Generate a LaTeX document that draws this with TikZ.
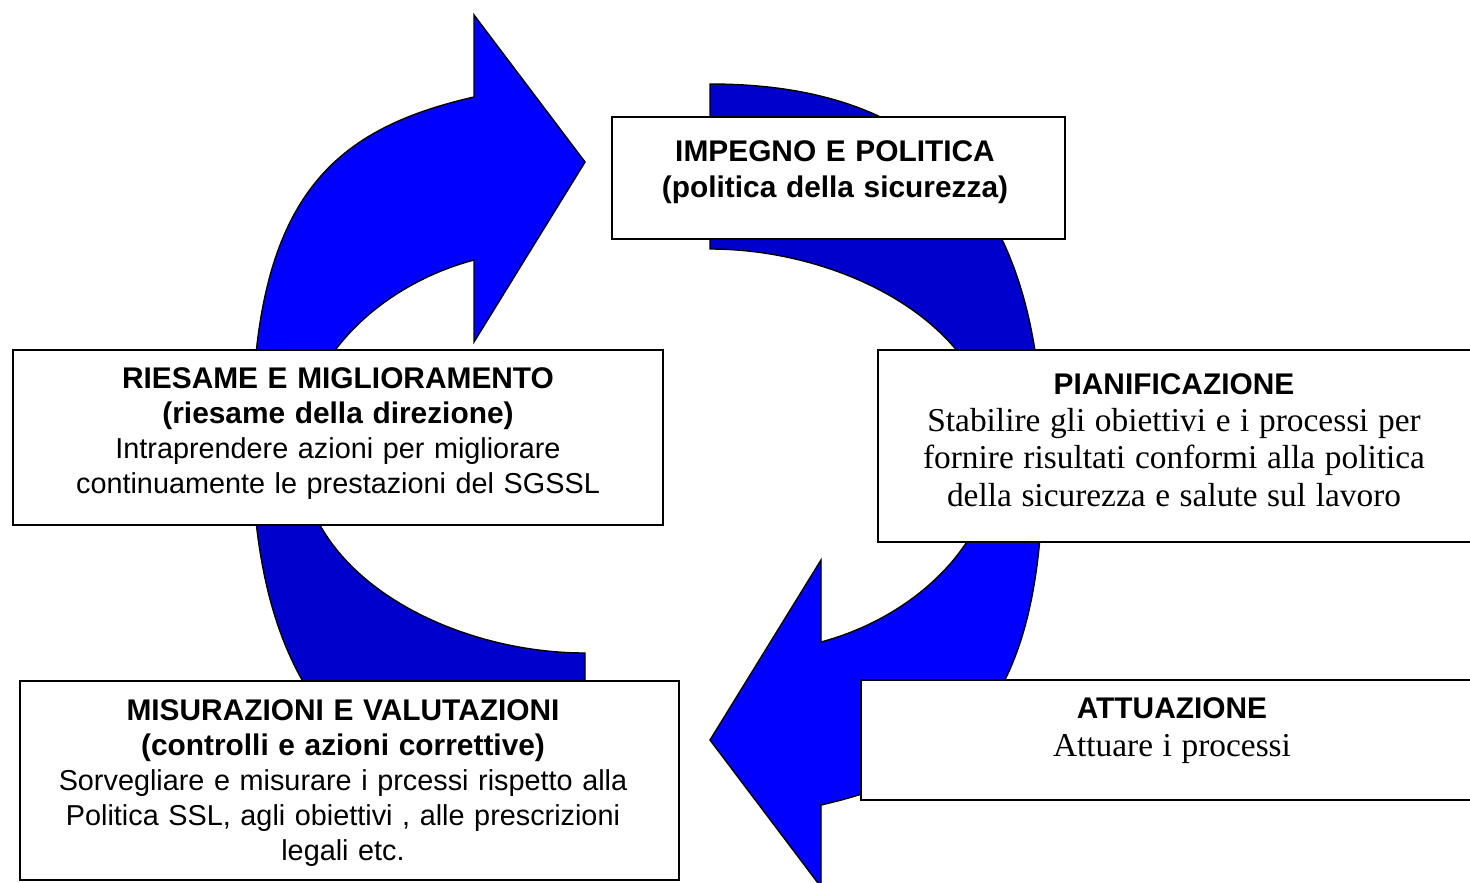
\documentclass[tikz,border=0pt]{standalone}
\usepackage{fontspec}
\setmainfont{Liberation Serif}
\setsansfont{Liberation Sans}
\usepackage{tikz}
\usetikzlibrary{calc}

\definecolor{frontblue}{RGB}{0,0,255}
\definecolor{backblue}{RGB}{0,0,204}

\tikzset{
  box/.style={draw, fill=white, line width=0.9pt, inner sep=0pt, outer sep=0pt},
  boxtext/.style={align=center, inner sep=0pt, font=\sffamily\fontsize{16.4}{19.85}\selectfont},
  serifbox/.style={align=center, inner sep=0pt, font=\sffamily\fontsize{16.4}{21.3}\selectfont},
  outline/.style={draw=black, line width=0.8pt, line join=miter}
}
\newcommand{\hd}[1]{{\bfseries\fontsize{17}{19.85}\selectfont #1}}
\newcommand{\sr}{\rmfamily\fontsize{19}{21.3}\selectfont}

\newcommand{\bandpath}{
  (585,818) .. controls (330,818) and (252,660) .. (252,440)
  .. controls (252,200) and (330,130) .. (474,97)
  -- (474,15) -- (585,162) -- (474,342) -- (474,260)
  .. controls (380,285) and (300,360) .. (300,450)
  .. controls (300,575) and (450,653) .. (585,653)
  -- cycle}

\begin{document}
\begin{tikzpicture}[x={(0.02cm,0)}, y={(0,-0.02cm)}]

	\useasboundingbox (0,0) rectangle (1470,882);

	\coordinate (pivot) at (647.5,451);

	\foreach \ang in {0,180}{
		\begin{scope}[rotate around={\ang:(pivot)}]
			\fill[backblue] \bandpath;
			\begin{scope}
				\clip (0,0) rectangle (1470,440);
				\fill[frontblue] \bandpath;
			\end{scope}
			\draw[outline] \bandpath;
		\end{scope}
	}

	\node[box, minimum width=9.06cm, minimum height=2.44cm] (impegno) at (838.5,178) {};
	\node[box, minimum width=13cm, minimum height=3.5cm] (riesame) at (338,437.5) {};
	\node[box, minimum width=12.04cm, minimum height=3.84cm] (pianif) at (1179,446) {};
	\node[box, minimum width=12.38cm, minimum height=2.4cm] (attuaz) at (1170.5,740) {};
	\node[box, minimum width=13.18cm, minimum height=3.98cm] (misuraz) at (349.5,780.5) {};

	\node[boxtext, text width=9cm] (impegno-t) at (835,172)
		{\hd{IMPEGNO E POLITICA}\\[1pt]\hd{(politica della sicurezza)}};
	\node[boxtext, text width=12.8cm] (riesame-t) at (338,433.5)
		{\hd{RIESAME E MIGLIORAMENTO}\\\hd{(riesame della direzione)}\\
		 Intraprendere azioni per migliorare\\continuamente le prestazioni del SGSSL};
	\node[serifbox, text width=11.8cm] (pianif-t) at (1174,440)
		{\hd{PIANIFICAZIONE}\\{\sr Stabilire gli obiettivi e i processi per}\\
		 {\sr fornire risultati conformi alla politica}\\{\sr della sicurezza e salute sul lavoro}};
	\node[serifbox, text width=12cm] (attuaz-t) at (1172,730.5)
		{\hd{ATTUAZIONE}\\{\sr Attuare i processi}};
	\node[boxtext, text width=13cm] (misuraz-t) at (343,783)
		{\hd{MISURAZIONI E VALUTAZIONI}\\\hd{(controlli e azioni correttive)}\\
		 Sorvegliare e misurare i prcessi rispetto alla\\
		 Politica SSL, agli obiettivi , alle prescrizioni\\legali etc.};

\end{tikzpicture}
\end{document}
